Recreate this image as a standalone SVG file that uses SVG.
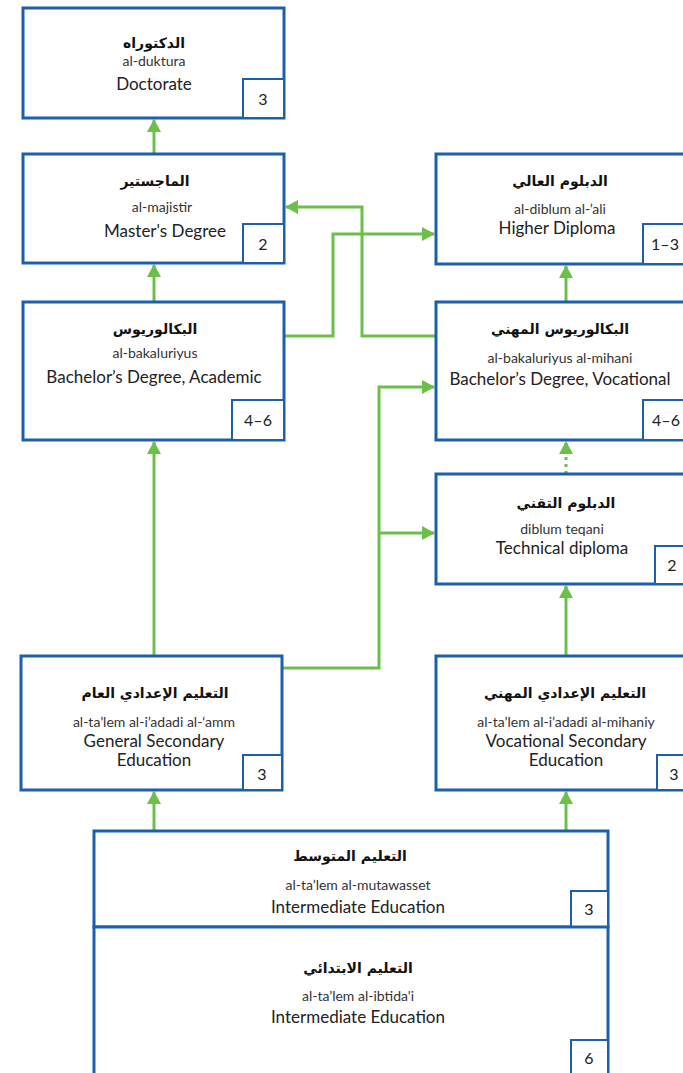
<svg xmlns="http://www.w3.org/2000/svg" width="683" height="1073" viewBox="0 0 683 1073">
<style>
.box{fill:#fff;stroke:#1c5fae;stroke-width:3}
.num{fill:#fff;stroke:#1c5fae;stroke-width:2}
.ar{font-family:"DejaVu Sans",sans-serif;font-weight:bold;font-size:14px;fill:#111;text-anchor:middle}
.tr{font-family:Lato,"Liberation Sans",sans-serif;font-size:14px;fill:#333;text-anchor:middle}
.en{font-family:Lato,"Liberation Sans",sans-serif;font-size:17px;fill:#222;text-anchor:middle}
.nt{font-family:Lato,"Liberation Sans",sans-serif;font-size:16px;fill:#222;text-anchor:middle}
.ln{fill:none;stroke:#6cc04a;stroke-width:3}
</style>
<defs>
<marker id="ah" markerUnits="userSpaceOnUse" markerWidth="14" markerHeight="14" refX="12" refY="7" orient="auto">
<path d="M0,0 L13,7 L0,14 Z" fill="#6cc04a"/>
</marker>
</defs>
<g id="connectors">
<path class="ln" d="M154,154 V120" marker-end="url(#ah)"/>
<path class="ln" d="M154,302 V265" marker-end="url(#ah)"/>
<path class="ln" d="M154,656 V442" marker-end="url(#ah)"/>
<path class="ln" d="M284,336 H333 V234 H434" marker-end="url(#ah)"/>
<path class="ln" d="M436,336 H362 V207 H286" marker-end="url(#ah)"/>
<path class="ln" d="M566,302 V266" marker-end="url(#ah)"/>
<path class="ln" d="M566,474 V442" stroke-dasharray="3,4" marker-end="url(#ah)"/>
<path class="ln" d="M282,668 H379 V387 H434" marker-end="url(#ah)"/>
<path class="ln" d="M379,533 H434" marker-end="url(#ah)"/>
<path class="ln" d="M566,656 V586" marker-end="url(#ah)"/>
<path class="ln" d="M154,831 V792" marker-end="url(#ah)"/>
<path class="ln" d="M566,831 V792" marker-end="url(#ah)"/>
</g>
<g id="doctorate">
<rect class="box" x="23" y="8" width="261" height="110"/>
<rect class="num" x="243" y="79" width="41" height="39"/>
<text class="ar" x="154" y="48">الدكتوراه</text>
<text class="tr" x="154" y="66">al-duktura</text>
<text class="en" x="154" y="90">Doctorate</text>
<text class="nt" x="263" y="105">3</text>
</g>
<g id="masters">
<rect class="box" x="23" y="154" width="261" height="109"/>
<rect class="num" x="243" y="224" width="41" height="39"/>
<text class="ar" x="155" y="186">الماجستير</text>
<text class="tr" x="162" y="212">al-majistir</text>
<text class="en" x="165" y="237">Master's Degree</text>
<text class="nt" x="263" y="250">2</text>
</g>
<g id="higher-diploma">
<rect class="box" x="436" y="154" width="250" height="110"/>
<rect class="num" x="643" y="224" width="43" height="40"/>
<text class="ar" x="560" y="186">الدبلوم العالي</text>
<text class="tr" x="560" y="214">al-diblum al-’ali</text>
<text class="en" x="557" y="234">Higher Diploma</text>
<text class="nt" x="665" y="250">1–3</text>
</g>
<g id="bachelor-academic">
<rect class="box" x="23" y="302" width="261" height="138"/>
<rect class="num" x="232" y="400" width="52" height="40"/>
<text class="ar" x="155" y="334">البكالوريوس</text>
<text class="tr" x="155" y="358">al-bakaluriyus</text>
<text class="en" x="154" y="383">Bachelor’s Degree, Academic</text>
<text class="nt" x="258" y="426">4–6</text>
</g>
<g id="bachelor-vocational">
<rect class="box" x="436" y="302" width="250" height="138"/>
<rect class="num" x="643" y="400" width="43" height="40"/>
<text class="ar" x="560" y="334">البكالوريوس المهني</text>
<text class="tr" x="560" y="363">al-bakaluriyus al-mihani</text>
<text class="en" x="560" y="385">Bachelor’s Degree, Vocational</text>
<text class="nt" x="666" y="426">4–6</text>
</g>
<g id="technical-diploma">
<rect class="box" x="436" y="474" width="250" height="110"/>
<rect class="num" x="655" y="546" width="31" height="38"/>
<text class="ar" x="566" y="508">الدبلوم التقني</text>
<text class="tr" x="562" y="534">diblum teqani</text>
<text class="en" x="562" y="554">Technical diploma</text>
<text class="nt" x="672" y="571">2</text>
</g>
<g id="general-secondary">
<rect class="box" x="21" y="656" width="261" height="134"/>
<rect class="num" x="243" y="755" width="39" height="35"/>
<text class="ar" x="155" y="698">التعليم الإعدادي العام</text>
<text class="tr" x="154" y="727">al-ta’lem al-i’adadi al-‘amm</text>
<text class="en" x="154" y="747">General Secondary</text>
<text class="en" x="154" y="766">Education</text>
<text class="nt" x="262" y="780">3</text>
</g>
<g id="vocational-secondary">
<rect class="box" x="436" y="656" width="250" height="134"/>
<rect class="num" x="657" y="755" width="29" height="35"/>
<text class="ar" x="565" y="698">التعليم الإعدادي المهني</text>
<text class="tr" x="566" y="727">al-ta’lem al-i’adadi al-mihaniy</text>
<text class="en" x="566" y="747">Vocational Secondary</text>
<text class="en" x="566" y="766">Education</text>
<text class="nt" x="674" y="780">3</text>
</g>
<g id="intermediate">
<rect class="box" x="94" y="831" width="514" height="96"/>
<rect class="num" x="571" y="891" width="37" height="36"/>
<text class="ar" x="350" y="861">التعليم المتوسط</text>
<text class="tr" x="358" y="890">al-ta’lem al-mutawasset</text>
<text class="en" x="358" y="913">Intermediate Education</text>
<text class="nt" x="589" y="915">3</text>
</g>
<g id="primary">
<rect class="box" x="94" y="927" width="514" height="150"/>
<rect class="num" x="571" y="1040" width="37" height="37"/>
<text class="ar" x="358" y="973">التعليم الابتدائي</text>
<text class="tr" x="358" y="1001">al-ta’lem al-ibtida'i</text>
<text class="en" x="358" y="1023">Intermediate Education</text>
<text class="nt" x="589" y="1064">6</text>
</g>
</svg>
